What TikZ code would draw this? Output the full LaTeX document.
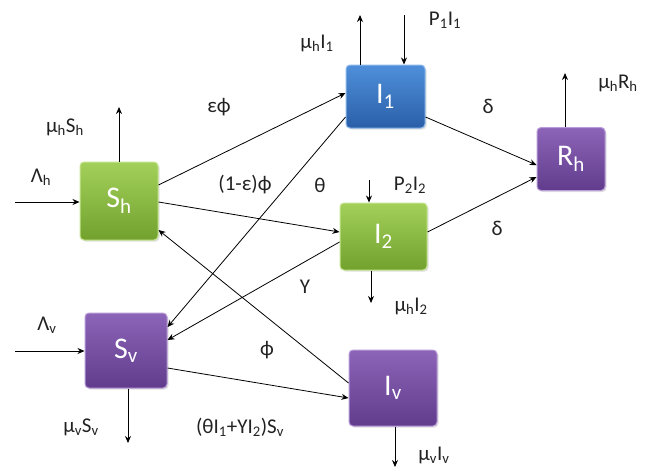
\documentclass[tikz,border=0pt]{standalone}
\usepackage{fontspec}
\setmainfont{Carlito}
\usetikzlibrary{arrows.meta,shadows,calc}
\definecolor{gtop}{HTML}{A2D05A}
\definecolor{gbot}{HTML}{72A12E}
\definecolor{gdraw}{HTML}{C6E58F}
\definecolor{btop}{HTML}{4F8FDA}
\definecolor{bbot}{HTML}{2A5FA8}
\definecolor{bdraw}{HTML}{8DB8EC}
\definecolor{ptop}{HTML}{8C64B8}
\definecolor{pbot}{HTML}{613C8C}
\definecolor{pdraw}{HTML}{B89BD8}
\definecolor{lbltext}{HTML}{222222}
\begin{document}
\begin{tikzpicture}[x=1pt,y=-1pt,
  box/.style={rounded corners=4pt, text=white, inner sep=0pt, line width=1pt,
    font=\fontsize{30}{32}\selectfont,
    drop shadow={opacity=0.25, shadow xshift=1.5pt, shadow yshift=-1.5pt}},
  greenbox/.style={box, top color=gtop, bottom color=gbot, draw=gdraw},
  bluebox/.style={box, top color=btop, bottom color=bbot, draw=bdraw},
  purplebox/.style={box, top color=ptop, bottom color=pbot, draw=pdraw},
  lbl/.style={font=\fontsize{21}{23}\selectfont, text=lbltext, inner sep=1pt},
  arr/.style={-{Stealth[length=7pt,width=6pt]}, line width=0.8pt, draw=black}]
\useasboundingbox[fill=white] (0,0) rectangle (650,472);

% compartments
\node[greenbox, minimum width=78pt, minimum height=78pt] (Sh) at (119,201) {S\textsubscript{h}};
\node[bluebox, minimum width=79pt, minimum height=63pt] (I1) at (385.5,96.5) {I\textsubscript{1}};
\node[greenbox, minimum width=87pt, minimum height=67pt] (I2) at (383.5,236.5) {I\textsubscript{2}};
\node[purplebox, minimum width=68pt, minimum height=63pt] (Rh) at (571,159) {R\textsubscript{h}};
\node[purplebox, minimum width=82pt, minimum height=75pt] (Sv) at (126,350.5) {S\textsubscript{v}};
\node[purplebox, minimum width=88pt, minimum height=76pt] (Iv) at (393,388) {I\textsubscript{v}};

% free ends
\coordinate (LhIn) at (15,202);
\coordinate (ShOut) at (119,107);
\coordinate (I1Out) at (360,15);
\coordinate (P1In) at (404,15);
\coordinate (P2In) at (369,180);
\coordinate (I2Out) at (371,303);
\coordinate (RhOut) at (565,73);
\coordinate (LvIn) at (15,351);
\coordinate (SvOut) at (128,443);
\coordinate (IvOut) at (395,467);

% transitions between compartments
\draw[arr] ($(Sh.east)+(0,-16)$) -- ($(I1.west)+(0,-3.5)$);
\draw[arr] ($(Sh.east)+(0,1)$) -- ($(I2.west)+(0,-4.5)$);
\draw[arr] ($(I1.west)+(0,20.5)$) -- ($(Sv.east)+(0,-23.5)$);
\draw[arr] ($(I2.west)+(0,5.5)$) -- ($(Sv.east)+(0,-10.5)$);
\draw[arr] ($(Iv.west)+(0,-5)$) -- ($(Sh.east)+(0,29)$);
\draw[arr] ($(Sv.east)+(0,17.5)$) -- ($(Iv.west)+(0,10)$);
\draw[arr] ($(I1.east)+(0,20.5)$) -- ($(Rh.west)+(0,6)$);
\draw[arr] ($(I2.east)+(0,-4.5)$) -- ($(Rh.west)+(0,18)$);

% inflows and outflows
\draw[arr] (LhIn) -- ($(Sh.west)+(0,1)$);
\draw[arr] (Sh.north) -- (ShOut);
\draw[arr] ($(I1.north)+(-25.5,0)$) -- (I1Out);
\draw[arr] (P1In) -- ($(I1.north)+(18.5,0)$);
\draw[arr] (P2In) -- ($(I2.north)+(-14.5,0)$);
\draw[arr] ($(I2.south)+(-12.5,0)$) -- (I2Out);
\draw[arr] ($(Rh.north)+(-6,0)$) -- (RhOut);
\draw[arr] (LvIn) -- ($(Sv.west)+(0,0.5)$);
\draw[arr] ($(Sv.south)+(2,0)$) -- (SvOut);
\draw[arr] ($(Iv.south)+(2,0)$) -- (IvOut);

% labels
\node[lbl] (lMuSh) at (65,127) {μ\textsubscript{h}S\textsubscript{h}};
\node[lbl] (lLh) at (41,177) {Λ\textsubscript{h}};
\node[lbl] (lEps) at (219,107) {εϕ};
\node[lbl] (lOneEps) at (245,185) {(1-ε)ϕ};
\node[lbl] (lTheta) at (320,185) {θ};
\node[lbl] (lP1) at (445,20) {P\textsubscript{1}I\textsubscript{1}};
\node[lbl] (lMuI1) at (317,43) {μ\textsubscript{h}I\textsubscript{1}};
\node[lbl] (lDelta1) at (488,106) {δ};
\node[lbl] (lP2) at (410,185) {P\textsubscript{2}I\textsubscript{2}};
\node[lbl] (lDelta2) at (497,228) {δ};
\node[lbl] (lGamma) at (305,287) {Υ};
\node[lbl] (lMuI2) at (411,306) {μ\textsubscript{h}I\textsubscript{2}};
\node[lbl] (lMuRh) at (618,83) {μ\textsubscript{h}R\textsubscript{h}};
\node[lbl] (lLv) at (47,325) {Λ\textsubscript{v}};
\node[lbl] (lPhi) at (267,350) {ϕ};
\node[lbl] (lMuSv) at (81,427) {μ\textsubscript{v}S\textsubscript{v}};
\node[lbl] (lForce) at (240,427) {(θI\textsubscript{1}+ΥI\textsubscript{2})S\textsubscript{v}};
\node[lbl] (lMuIv) at (434,455) {μ\textsubscript{v}I\textsubscript{v}};
\end{tikzpicture}
\end{document}
